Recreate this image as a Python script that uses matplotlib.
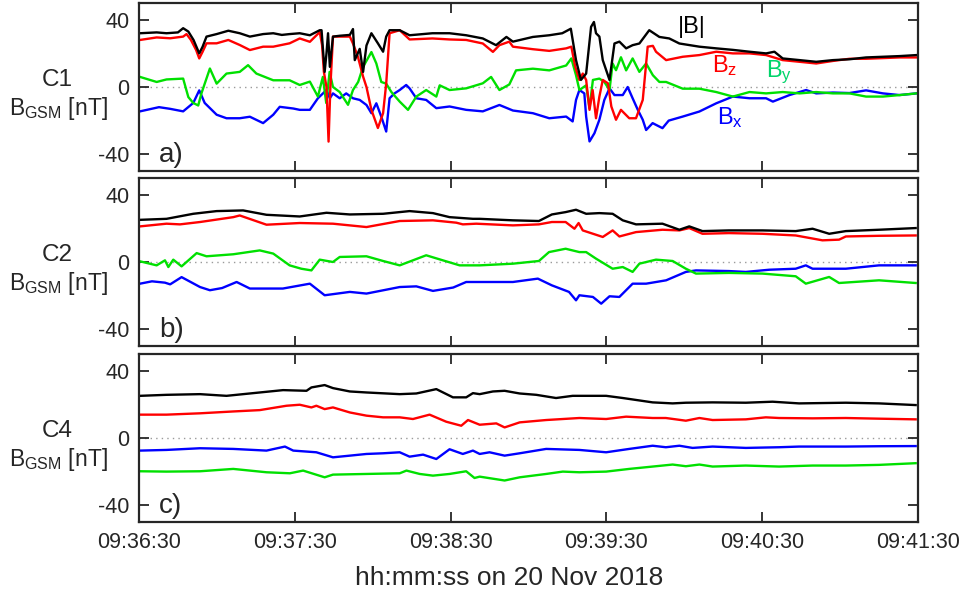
import matplotlib
matplotlib.use("Agg")
import matplotlib.pyplot as plt
import numpy as np

plt.rcParams["font.family"] = ["Liberation Sans", "DejaVu Sans"]
plt.rcParams["mathtext.fontset"] = "custom"
plt.rcParams["mathtext.rm"] = "Liberation Sans"
plt.rcParams["mathtext.it"] = "Liberation Sans"
plt.rcParams["axes.unicode_minus"] = False

# time in seconds after 09:36:30 UT, field in nT
TICK_SEC = [0, 60, 120, 180, 240, 300]
TICK_LAB = ["09:36:30", "09:37:30", "09:38:30", "09:39:30", "09:40:30", "09:41:30"]

# ---- C1 ----
c1_t_b = [0.4, 6.8, 10.6, 15, 17, 19, 21, 23.2, 24.5, 26, 29.9, 34.4, 38.8, 42.7, 47.8, 51.7, 55, 58,
          61.9, 65.8, 69.6, 70.3, 71.5, 72.2, 72.8, 73.5, 74.7, 77.3, 81.2, 82.4, 83.1, 85, 86.3, 87.6,
          89.5, 92, 94, 95.2, 96.5, 100.4, 104.2, 113, 119.6, 126, 132.4, 137.5, 141.5, 144, 151.7, 158,
          163, 166.3, 168.3, 170.2, 172.2, 174.1, 175.2, 176, 177.3, 178.6, 181.2, 183.1, 185, 187.6,
          190.1, 192.7, 196.5, 200.4, 204.2, 208.1, 215.8, 222.3, 228.7, 235.1, 241.5, 244.7, 247.9,
          254.4, 260.8, 267.2, 273.6, 280, 286.5, 292.9, 299.4]
c1_b = [32, 32.5, 32, 32.5, 35, 33, 28, 20, 24, 30, 31.5, 33.5, 32, 30, 31.5, 32, 31, 31.5,
        32, 30.8, 33.8, 33.8, 9, 20, 32, 12, 30, 30.5, 31, 34.5, 16, 22.7, 9, 24.7,
        32, 26, 21, 30, 33.8, 33.8, 30.8, 32, 32, 30.8, 28.9, 24.9, 29.8, 27, 29.8, 30.8,
        32, 34.7, 16, 4.2, 8, 35.8, 38.7, 32, 30, 16, 4.2, 25.9, 27, 23,
        24.9, 25.9, 33.8, 29.8, 28.9, 25.9, 24, 23, 22.1, 21, 20, 21, 17,
        16, 15, 16, 16.5, 17.6, 18, 18.4, 19]

c1_t_z = [0.4, 6.8, 12, 17, 18.3, 20, 22, 23.2, 24.5, 26, 29.9, 34.4, 38.8, 42.7, 47.8, 51.7, 58,
          61.9, 65.8, 69.6, 70.5, 71.2, 72.2, 73, 73.7, 74.7, 81.2, 82.4, 84.3, 86.3, 87.6, 89.5, 92,
          94, 95.2, 96.5, 100.4, 104.2, 113, 119.6, 126, 132.4, 136.3, 138.8, 142.6, 144, 151.7, 158,
          164.5, 166.5, 168, 169.6, 170.9, 172.2, 173.5, 174.7, 176, 177.3, 178.6, 180.6, 181.9, 183.7,
          185.6, 188.8, 191.4, 194, 195.9, 197.9, 199.1, 203, 209.4, 215.8, 222.3, 228.7, 235.1, 241.5,
          247.9, 254.4, 260.8, 267.2, 273.6, 280, 286.5, 292.9, 299.4]
c1_bz = [28, 29.5, 29, 30, 31.5, 28, 22, 17, 21, 26, 26, 28, 25, 22, 24, 24, 26,
         28.9, 26.9, 32.7, 25, 9, 0, -32.5, 0, 30, 30, 25.9, 18, 6.2, 0, -13.6, -24.4,
         -15.6, 2, 32, 33.8, 28.3, 28.9, 28.3, 28, 25.9, 20.9, 24.9, 27, 24, 22.5, 21.5,
         23, 24, 12, 4.2, 8, 4.2, -13.6, -1.8, -18.6, -5.7, 4.2, 2.2, -11.6, -19.5,
         -13.6, -18.6, -18.6, -7.7, 24, 24.5, 21, 16, 18, 19, 21, 20, 20, 19,
         16, 15, 14, 15.5, 16.8, 16.8, 17.2, 17.6, 17.6]

c1_t_y = [0.4, 6.8, 10.6, 17, 19, 20.9, 22.8, 24.1, 27.3, 29.9, 33.7, 38.8, 42, 45.2, 51.7, 58,
          61.9, 65.8, 68.9, 70.8, 72.1, 73.4, 74.7, 77.3, 80.5, 82.4, 84.4, 86.3, 89.5, 91.4, 93.3,
          95.2, 97.2, 100.4, 103.6, 106.8, 110.6, 114.5, 115.8, 119.6, 126, 132.4, 135.6, 138.8, 142.6,
          145.2, 151.7, 158, 164.5, 166.5, 168.3, 169.6, 172.2, 173.5, 174.8, 177.3, 179.2, 181.2, 182.4,
          183.7, 185.6, 187.6, 190.1, 192.7, 195.3, 197.9, 200.4, 203, 209.4, 215.8, 222.3, 228.7, 235.1,
          241.5, 247.9, 254.4, 260.8, 267.2, 273.6, 280, 286.5, 292.9, 299.4]
c1_by = [6, 3, 4.5, 5, -6, -9.5, -11, -3.5, 11, 2, 8, 9, 13, 8, 4, 4,
         1.2, 3.2, -5.7, 6, -9.5, 9, 0, -3, -10.6, -1.8, 3, 12, 20.8, 14, 3,
         2, -3, -8.7, -13.6, -5.7, -1.8, -5.7, 1, -1.8, -0.8, 2.2, 6, -1.8, 1.5,
         9.9, 10.9, 9.9, 12.8, 17, 7, -1.8, 1, -12.6, 4.2, 5, 3, -1.8, 14,
         10, 17.7, 9.9, 17, 9, 14, 7, 3, 3, -1, -1, -3, -5.7, -3,
         -3.8, -3, -3.8, -3, -3.8, -3.8, -5.7, -5.7, -4.8, -3.8]

c1_t_x = [0.4, 7.7, 12, 17, 20.9, 23.2, 25.3, 29.9, 33.7, 38.8, 42.7, 47.8, 51.7, 54.2, 59.4, 61.9,
          65.8, 68.9, 72.2, 73.5, 74.7, 77.3, 79.8, 82.4, 85, 87.6, 89.5, 91.4, 93.3, 95.2, 96.5, 98.4,
          100.4, 102.9, 104.2, 106.8, 110.6, 114.5, 119.6, 126, 132.4, 138.8, 144, 151.7, 158, 164.5,
          167, 168.3, 169.6, 171.5, 172.2, 173.5, 175.4, 177.3, 179.2, 181.2, 183.1, 186.3, 188.2, 190.1,
          192.1, 194, 195.3, 197.8, 201.6, 204, 209.4, 215.8, 222.3, 228.7, 235.1, 241.5, 244.1, 250.5,
          256.9, 260.8, 267.2, 273.6, 280, 286.5, 292.9, 299.4]
c1_bx = [-14.5, -12, -13, -14.5, -9.5, -2, -9.5, -16.5, -18.6, -18.6, -17.7, -21.5, -16.5, -11.8, -12.8, -13.6,
         -13.6, -6.7, -1.8, -6.7, -3.8, -6.7, -3.8, -6.7, -7.7, -10.7, -15.6, -9.7, -17.6, -26.5, -6.7, -3.8,
         -1.8, 1.2, -0.8, -6.7, -7.7, -12.6, -11.6, -13.6, -14.5, -10.7, -14, -15.6, -18.6, -17.6,
         -20.5, -7.7, -1.8, -3.8, -17.6, -32.4, -27.5, -19.5, -7.7, -0.8, -4.8, -4.8, 0, -6.7,
         -13.6, -19.5, -25.6, -21.5, -24.5, -20, -17.6, -14.6, -9.7, -5.7, -6.7, -6.7, -8.7, -4.8,
         -1.8, -3.8, -3.3, -3.6, -2, -3.8, -4.8, -3.8]

# ---- C2 ----
c2_t_b = [0.4, 10.6, 20.9, 29.9, 40.1, 49.1, 61.9, 72.2, 81.2, 94, 104.2, 113.2, 119.6, 128.6,
          131.2, 144, 154, 159, 164.3, 168.3, 172.2, 177.3, 182.4, 186.3, 191.4, 201.6, 208.1, 211.9,
          217, 227.2, 240.1, 252.9, 259.4, 265.8, 272.2, 285, 299.1]
c2_b = [25.1, 25.7, 28.7, 30.3, 30.7, 28.1, 27.1, 29.3, 28.3, 28.7, 30.3, 29.1, 26.7, 25.7,
        25.7, 24.8, 24.4, 28.3, 29.7, 31.1, 28.7, 29.1, 28.7, 24.8, 22.4, 22.8, 19.2, 21.2,
        18.4, 18.8, 18.8, 18.4, 19.8, 16.8, 18.4, 19.2, 20.2]

c2_t_z = [0.4, 10.6, 15.8, 23.5, 36.3, 38.8, 49.1, 61.9, 74.7, 87.6, 100.4, 113.2, 122.2, 124.7, 129.9,
          144, 154, 159, 164.3, 167.7, 169.3, 170.9, 178.6, 182.4, 185, 191.4, 201.6, 208.1, 211.9, 217,
          227.2, 240.1, 252.9, 263.2, 269.6, 272.2, 285, 299.1]
c2_bz = [21.2, 22.8, 22.4, 23.8, 26.7, 27.7, 22.2, 23.2, 22.8, 20.8, 24.4, 24.8, 23.4, 22.4, 22.8,
         21.8, 22.4, 23.8, 23.8, 19.8, 23.2, 18.8, 14.9, 18.8, 15.2, 17.8, 19.2, 18.8, 20.2, 16.8,
         17.2, 16.8, 15.8, 12.9, 13.3, 15.2, 15.6, 15.8]

c2_t_y = [0.4, 6.8, 10, 11.3, 13.2, 16.4, 22.2, 26, 36.3, 46.5, 51.7, 58, 62.5, 66.4, 69.6, 74.7, 77.3,
          87.6, 94, 100.4, 110.6, 117, 123.5, 131.2, 144, 154, 157.9, 164.3, 169.6, 172.2, 176, 182.4,
          186.3, 190.1, 192.7, 199.1, 205.5, 210.6, 214.5, 227.2, 240.1, 252.9, 256.8, 265.8, 269.6,
          285, 299.1]
c2_by = [0.4, -2, 1, -3, 1.4, -2.6, 5.3, 3.4, 4.6, 6.9, 5, -2, -4, -5, 1.4, 0, 3,
         3.4, 0.6, -2, 4, 1, -2, -2, -1, 0.6, 5.9, 7.9, 5.9, 5.9, 2, -4,
         -3, -5.9, -1, 1.4, 0.6, -4, -6.9, -6.5, -6.9, -8.5, -12.9, -8.9, -12.5,
         -10.9, -12.5]

c2_t_x = [0.4, 5, 10, 12, 16.4, 23.5, 27.3, 32, 37.6, 42.7, 55.4, 65.8, 71.5, 81.2, 87.6, 100.4, 106.8,
          113.2, 121, 126, 131.2, 144, 153.6, 159, 165.6, 168.3, 169.6, 174.8, 178, 181.2, 185, 190.1,
          195.3, 203, 210.6, 214.5, 227.2, 233.7, 242.7, 252.9, 256.8, 259.4, 272.2, 285, 299.1]
c2_bx = [-12.9, -11.5, -12.3, -13.3, -9, -14.9, -16.8, -15.5, -11.9, -15.8, -15.8, -12.9, -19.8, -17.8,
         -18.8, -14.9, -14.5, -17.2, -15.2, -11.9, -11.9, -11.9, -9.9, -13.9, -17.8, -22.8, -19.8, -20.8,
         -24.8, -20.4, -20.8, -12.9, -12.9, -10.9, -5.9, -5, -5.4, -5.9, -4.6, -4, -2, -4, -4, -2, -2]

# ---- C4 ----
c4_t_b = [0.4, 10.6, 23.5, 33.7, 46.5, 55.5, 64.5, 66.4, 71.5, 74.7, 81.2, 87.6, 100.4, 106.8, 114.5,
          120.9, 126, 128.6, 131.2, 136.3, 140.8, 146.6, 153, 160.6, 167, 179.9, 186.3, 197.8, 205.5,
          210.6, 220.9, 233.7, 244, 254.2, 272.2, 285, 299.1]
c4_b = [25.1, 25.7, 26.1, 25.1, 27.1, 28.5, 28.1, 30.1, 31.5, 29.7, 27.7, 27.1, 26.1, 26.5, 29.1,
        24.2, 24.2, 26.7, 26.1, 27.7, 28.1, 26.5, 25.7, 23.8, 25.1, 25.1, 23.8, 21.2, 20.6,
        21, 21.2, 21, 21.6, 20.6, 21, 20.6, 19.6]

c4_t_z = [0.4, 10.6, 23.5, 36.3, 46.5, 56.8, 61.9, 66.4, 68.3, 71.5, 74.7, 81.2, 87.6, 94, 100.4,
          105.5, 111.9, 118.3, 124.1, 126.7, 131.2, 137.6, 140.8, 146.6, 156.8, 169.6, 179.9, 187.6,
          197.8, 202.9, 210.6, 215.8, 220.9, 233.7, 241.4, 246.5, 259.4, 272.2, 285, 299.1]
c4_bz = [13.9, 13.9, 14.7, 15.8, 16.6, 19.2, 19.8, 18.2, 19.2, 17.2, 18.2, 15.2, 13.3, 12.3, 12.3,
         11.3, 13.9, 9.7, 7.3, 10.7, 7.9, 8.7, 6.3, 9.3, 10.7, 11.9, 11.3, 12.7,
         11.9, 11.9, 10.3, 11.9, 10.7, 11.1, 12.3, 11.9, 11.7, 11.9, 11.5, 11.1]

c4_t_y = [0.4, 10.6, 23.5, 36.3, 49.1, 58.1, 63.2, 71.5, 74.7, 87.6, 100.4, 103, 108.1, 113.2, 119.6,
          126, 129.2, 131.2, 140.8, 146.6, 156.8, 163.2, 169.6, 179.9, 188.8, 197.8, 205.5, 210.6,
          215.8, 220.9, 233.7, 246.5, 259.4, 272.2, 285, 299.1]
c4_by = [-19.8, -20, -19.8, -18.4, -20.4, -21, -19.4, -23.4, -21.8, -21.4, -21, -19.4, -21.4, -22.4, -21.4,
         -19.8, -23.8, -23, -25.3, -23.4, -21.4, -20, -20.4, -20, -18.4, -17, -15.8, -16.8,
         -15.8, -17, -16.4, -17, -16.4, -16.4, -16, -15]

c4_t_x = [0.4, 10.6, 23.5, 36.3, 49.1, 56.2, 59.4, 68.3, 74.7, 81.2, 87.6, 94, 100.4, 104.2, 109.4,
          114.5, 119.6, 124.7, 128.6, 131.2, 135, 140.8, 146.6, 156.8, 169.6, 179.9, 188.8, 197.8,
          202.9, 208.1, 213.2, 220.9, 233.7, 246.5, 254.2, 272.2, 285, 299.1]
c4_bx = [-7.5, -7.1, -6.1, -6.5, -7.5, -5.1, -7.5, -8.5, -11.5, -10.5, -9.5, -9.1, -8.5, -11.1, -9.9,
         -12.5, -6.7, -9.5, -7.5, -9.5, -8.5, -10.5, -9.1, -6.5, -7.1, -8.5, -6.5, -4.6,
         -5.5, -4.6, -5.9, -5.1, -5.9, -5.5, -5.1, -5.1, -4.9, -4.8]

panels = [
    ("C1", "a)", (c1_t_x, c1_bx), (c1_t_y, c1_by), (c1_t_z, c1_bz), (c1_t_b, c1_b)),
    ("C2", "b)", (c2_t_x, c2_bx), (c2_t_y, c2_by), (c2_t_z, c2_bz), (c2_t_b, c2_b)),
    ("C4", "c)", (c4_t_x, c4_bx), (c4_t_y, c4_by), (c4_t_z, c4_bz), (c4_t_b, c4_b)),
]
colors = ["#0000FF", "#00E000", "#FF0000", "#000000"]
TXT = "#262626"

fig = plt.figure(figsize=(9.64, 5.94), dpi=100)
W, H = 964, 594
tops = [3, 178, 354]
ph = 168
for i, (name, tag, *series) in enumerate(panels):
    ax = fig.add_axes([139 / W, 1 - (tops[i] + ph) / H, 779 / W, ph / H])
    ax.axhline(0, color="#9a9a9a", lw=1.0, ls=(0, (1, 3)), zorder=1)
    for (t, v), c in zip(series, colors):
        ax.plot(t, v, color=c, lw=1.7, zorder=2)
    ax.set_xlim(0, 300)
    ax.set_ylim(-50, 50)
    ax.set_yticks([-40, 0, 40])
    ax.set_xticks(TICK_SEC)
    if i == 2:
        ax.set_xticklabels(TICK_LAB)
    else:
        ax.set_xticklabels([])
    ax.tick_params(direction="in", top=True, right=True, length=7, width=1.3,
                   labelsize=15.5, colors=TXT, pad=7)
    for s in ax.spines.values():
        s.set_linewidth(1.6)
        s.set_color(TXT)
    ax.text(-0.105, 0.54, name, transform=ax.transAxes, ha="center", va="center",
            fontsize=17.5, color=TXT)
    ax.text(-0.104, 0.37, r"B$_\mathrm{GSM}$ [nT]", transform=ax.transAxes, ha="center",
            va="center", fontsize=16.5, color=TXT)
    ax.text(0.026, 0.095, tag, transform=ax.transAxes, ha="left", va="center",
            fontsize=20, color=TXT)
    if i == 0:
        ax.text(0.692, 0.86, "|B|", transform=ax.transAxes, fontsize=17, color="#000000",
                ha="left", va="center")
        ax.text(0.736, 0.63, r"B$_\mathrm{z}$", transform=ax.transAxes, fontsize=17,
                color="#FF0000", ha="left", va="center")
        ax.text(0.805, 0.585, r"B$_\mathrm{y}$", transform=ax.transAxes, fontsize=17,
                color="#00D46A", ha="left", va="center")
        ax.text(0.742, 0.32, r"B$_\mathrm{x}$", transform=ax.transAxes, fontsize=17,
                color="#0000FF", ha="left", va="center")

fig.text(509.5 / W, 1 - 585 / H, "hh:mm:ss on 20 Nov 2018", ha="center", va="baseline",
         fontsize=19, color=TXT)

fig.savefig("out.png", dpi=100)
